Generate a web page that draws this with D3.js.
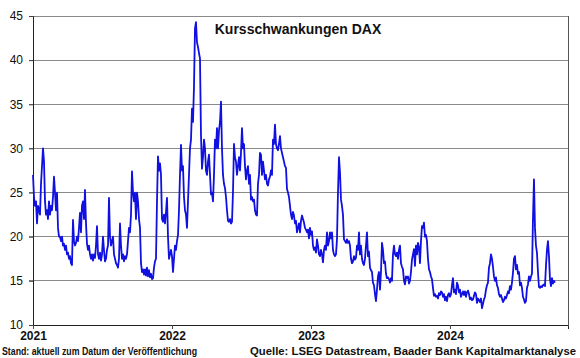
<!DOCTYPE html>
<html><head><meta charset="utf-8">
<script src="https://cdn.jsdelivr.net/npm/d3@7"></script>
<style>body{margin:0;background:#fff}svg{display:block}text{font-family:Arial,"Liberation Sans",sans-serif}</style>
</head><body><svg id="c" width="580" height="358"></svg>
<script>
const title = "Kursschwankungen DAX";
const footLeft = "Stand: aktuell zum Datum der Veröffentlichung";
const footRight = "Quelle: LSEG Datastream, Baader Bank Kapitalmarktanalyse";
const yTicks = [10, 15, 20, 25, 30, 35, 40, 45];
const xTickYears = ["2021", "2022", "2023", "2024"];
const seriesStart = "2021-01-01";
const seriesStepDays = 2.626;
const domainStart = "2021-01-01";
const domainEnd = "2024-11-06";
const vdax = [
27,24.5,23.5,24,21.5,23.5,23,22.5,26,28,30,28.5,24,22.5,23,22,24,22.5,23.5,23,24.5,26.8,25,23,25,21,20,20,19.5,20,19,19.2,18.5,19,18,18.2,17.5,17.8,17,16.8,
21.9,19.5,19,19.3,20,19.5,21,22.7,20.5,23.5,24,22,25.3,21.5,19.2,18.5,19,18,17.5,18,17.3,18,17.6,19,21.2,18,17.5,18.2,17.3,18,
20,18.5,17.2,17.5,18.5,19,24.4,20,19,19.5,20,18,17.5,17,16.8,16.5,17.5,21.5,19,17.5,18,17.2,17.8,17.5,18,19.5,21,20.5,22.5,27.4,
25,24,25,22,25,24,22,21,17,16,16.3,15.7,16.3,15.6,16.5,15.5,16.2,15.4,15.8,15.2,15.3,16.5,17.2,17.5,24,29.1,27.5,28.3,27,22,
21.7,22.5,21.5,22.8,24.4,20,17.5,18,18.5,17.8,16,17.5,19,18.5,19.5,20.2,23,27,30.4,27.5,28,24.5,23,22.5,21,24,27,30,31,34.5,
33,37,43.6,44.3,42,41.5,40.8,40.2,31.5,27.7,29,31,30,27.5,27,28.5,29.3,27,24.8,25,24,27,31,30,32.3,30,32,33,35.3,30,
27,26,25.5,24.5,23,21.8,21.7,22,21.5,21.7,25,30.5,29,28.5,27,28,29,27.5,29.5,32.3,30,30.5,28,26.5,27.5,28,26,27,24.2,24.5,
24,24.2,23,22.5,22.4,26,27,29.5,29.3,27,28.5,27.5,26.5,27,26,25.8,26.5,26.8,27.5,27,31,30.5,32.7,30.5,30,29.8,30.5,31.4,30,29.5,
29,28.5,28,27.8,25.4,25,24.5,23.5,22.5,22,22.8,22.4,21.5,21.8,20.5,21,21.5,20.5,21.8,22.4,22,21.6,21,20.8,20.5,20.8,19.8,21,20.2,20.6,
19,18.5,18.8,18.2,19.7,19,18,17.8,18.5,18,17.1,18.5,19,18.5,20.5,19,19.5,20.5,19.8,20.5,18.5,18,17.8,18,19.7,25,29,27.3,24.2,23.5,
22.5,19.7,19.5,19.3,19.7,19.3,19.5,19,17.5,17,17.2,17.8,17.4,17.6,19,18.5,20.5,18,19,17.5,17,16.8,17.5,19,20.5,17.8,18.3,16.5,16.2,16,
14.8,14.5,13.5,12.7,14,15.5,16,14,16,19.3,18.5,17,17.2,15.8,15.3,15.4,15.2,14.8,15.3,15,18,19,18,17.8,18.2,17.5,18.5,19,17,16.6,
16.3,15,14.6,15.5,15.3,15.5,14.7,15,16,17.4,18,18.6,16.7,19,18,19.3,18.8,17,19.5,21.2,21,21.6,20,20.2,19.5,17.5,16.3,16,15.5,15.2,
14.2,13.3,13.5,13.2,13.3,13,13.6,13.4,13.8,13.7,13.2,13.5,12.8,13.2,12.7,13.4,13.6,13.2,13.5,14.5,15.3,13.7,14,13.5,14.8,14.5,13.7,14,13.2,13.5,
13.8,13.4,13.8,13.2,13.7,13.9,13.5,12.9,13.1,12.8,12.9,13.3,13.7,13.5,12.5,13,12.8,12.6,13,11.9,12.4,12.9,13.2,14,14.5,14.8,16.5,17,18,17.5,
16.6,15.5,15,15.4,14.5,14.2,13.5,13.2,13.4,13,12.6,12.8,13.2,13,13.4,13.8,13.6,14.4,14,14.8,15.9,17.5,17.8,16.3,16.8,15.8,16,14.5,14.8,14.2,
13.2,12.9,12.5,12.7,14.2,14.6,15.5,15,15.5,15.8,22,26.5,21,19,18.2,16,14.3,14.2,14.4,14.3,14.5,14.6,14.4,16.7,18.5,19.5,17.8,15.2,14.4,15.3,
14.7,15,14.8
];

const svg = d3.select("#c");
const m = {l: 33, r: 568, t: 16, b: 325};
const parse = d3.utcParse("%Y-%m-%d");
const x = d3.scaleUtc().domain([parse(domainStart), parse(domainEnd)]).range([m.l, m.r]);
const y = d3.scaleLinear().domain([10, 45]).range([m.b, m.t]);
const t0 = parse(seriesStart).getTime();
const data = vdax.map((v, i) => ({d: new Date(t0 + i * seriesStepDays * 864e5), v}));

// grid
svg.append("g").selectAll("line").data(yTicks.filter(v => v > 10)).join("line")
  .attr("x1", m.l - 4).attr("x2", m.r).attr("y1", d => y(d)).attr("y2", d => y(d))
  .attr("stroke", "#8a8a8a").attr("stroke-width", 1).attr("shape-rendering", "crispEdges");

// right border
svg.append("line").attr("x1", m.r).attr("x2", m.r).attr("y1", m.t).attr("y2", m.b)
  .attr("stroke", "#555").attr("shape-rendering", "crispEdges");

// y axis
const ya = svg.append("g").attr("transform", `translate(${m.l},0)`)
  .call(d3.axisLeft(y).tickValues(yTicks).tickSize(4).tickPadding(6));
ya.select(".domain").attr("stroke", "#222");
ya.selectAll(".tick line").attr("stroke", "#444");
ya.selectAll("text").attr("font-size", 12).attr("fill", "#111").attr("font-family", "Arial, 'Liberation Sans', sans-serif");

// x axis
const xa = svg.append("g").attr("transform", `translate(0,${m.b})`)
  .call(d3.axisBottom(x).tickValues(xTickYears.map(s => parse(s + "-01-01"))).tickFormat(d3.utcFormat("%Y")).tickSize(4).tickPadding(2));
xa.select(".domain").attr("stroke", "#222");
xa.selectAll(".tick line").attr("stroke", "#444");
xa.selectAll("text").attr("font-size", 12).attr("font-weight", "bold").attr("fill", "#111").attr("font-family", "Arial, 'Liberation Sans', sans-serif");

// line
svg.append("path").datum(data)
  .attr("fill", "none").attr("stroke", "#1010e0").attr("stroke-width", 1.8).attr("stroke-linejoin", "round")
  .attr("d", d3.line().x(d => x(d.d)).y(d => y(d.v)));

// title
svg.append("text").attr("x", 298).attr("y", 34).attr("text-anchor", "middle")
  .attr("font-size", 14).attr("font-weight", "bold").attr("fill", "#111").text(title);

// footers
svg.append("text").attr("x", 2).attr("y", 355).attr("font-size", 10).attr("font-weight", "bold")
  .attr("fill", "#111").attr("textLength", 195).attr("lengthAdjust", "spacingAndGlyphs").text(footLeft);
svg.append("text").attr("x", 576).attr("y", 355).attr("text-anchor", "end").attr("font-size", 11).attr("font-weight", "bold")
  .attr("fill", "#111").attr("textLength", 326).attr("lengthAdjust", "spacingAndGlyphs").text(footRight);
</script></body></html>
